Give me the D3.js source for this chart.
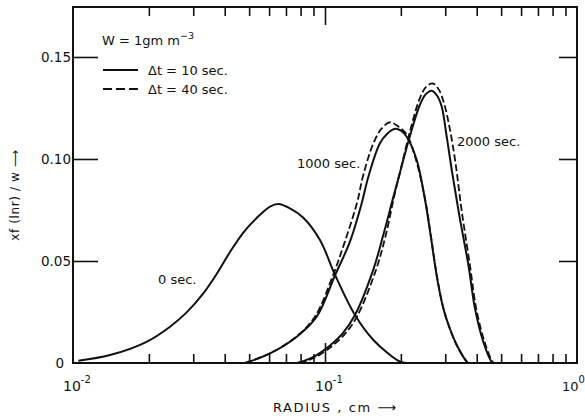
<!DOCTYPE html>
<html><head><meta charset="utf-8">
<script src="https://cdn.jsdelivr.net/npm/d3@7"></script>
<style>
body{margin:0;background:#fff;}
svg{display:block;}
text{font-family:"DejaVu Sans",sans-serif;fill:#111;}
</style></head>
<body><svg id="c" width="585" height="416"></svg>
<script>
// ---- data (radius in cm, value xf(ln r)/w) ----
const r0    = [0.0105,0.01403,0.01959,0.02427,0.02825,0.03289,0.03715,0.04198,0.04742,0.05358,0.06053,0.06531,0.07261,0.08204,0.0955,0.1096,0.1315,0.1556,0.1986,0.2109];
const v0    = [0.0011,0.0039,0.0104,0.0178,0.0248,0.0341,0.0436,0.0544,0.0639,0.0711,0.0767,0.0779,0.0758,0.0712,0.0603,0.0432,0.0235,0.0113,0.0006,0];

const r1000a = [0.04819,0.06053,0.07727,0.09268,0.1096,0.1256,0.1400,0.1486,0.1652,0.1770,0.1897,0.1995,0.2109,0.2312,0.2495,0.2630,0.2786,0.2951,0.3105,0.3334,0.3648,0.3690];
const v1000a = [0,0.0047,0.0129,0.0227,0.0430,0.0595,0.0785,0.0913,0.1077,0.1125,0.1148,0.1140,0.1109,0.0995,0.0799,0.062,0.0415,0.0266,0.0180,0.0088,0.0006,0];

const r1000b = [0.04819,0.06053,0.07727,0.0912,0.1076,0.1199,0.1340,0.1413,0.1556,0.1679,0.1811,0.1950,0.2109,0.2291,0.2495,0.2630,0.2786,0.2951,0.3105,0.3334,0.3664,0.3715];
const v1000b = [0,0.0048,0.0131,0.0227,0.0430,0.0595,0.0785,0.0913,0.1077,0.1150,0.1180,0.1160,0.1120,0.1000,0.0805,0.0625,0.0420,0.0268,0.0180,0.0086,0.0005,0];

const r2000a = [0.07727,0.08453,0.09268,0.1047,0.1175,0.1315,0.1556,0.1702,0.1866,0.1986,0.2173,0.2382,0.2512,0.2649,0.2786,0.2904,0.3041,0.3184,0.3404,0.3707,0.3936,0.4246,0.4581,0.4645];
const v2000a = [0,0.0015,0.0039,0.0086,0.0145,0.0235,0.0459,0.0626,0.0812,0.0936,0.1113,0.1267,0.1318,0.1335,0.1310,0.1257,0.1109,0.0946,0.073,0.048,0.0268,0.0104,0.0006,0];

const r2000b = [0.07925,0.0867,0.09506,0.1074,0.1205,0.1349,0.1596,0.1742,0.1884,0.1995,0.2178,0.2382,0.2523,0.2679,0.2831,0.2972,0.3126,0.3296,0.3483,0.3758,0.3981,0.4295,0.4624,0.4699];
const v2000b = [0,0.0015,0.0039,0.0086,0.0145,0.0235,0.0459,0.0626,0.0820,0.0946,0.1140,0.1300,0.1355,0.1370,0.1340,0.1270,0.1150,0.0980,0.0750,0.0480,0.0268,0.0104,0.0006,0];

const yTicks = [0,0.05,0.10,0.15];
const yTickLabels = ["0","0.05","0.10","0.15"];
const xMajor = [0.01,0.1,1];
const xMajorExp = ["-2","-1","0"];
const curveLabels = ["0 sec.","1000 sec.","2000 sec."];
const legendLabels = ["\u0394t = 10 sec.","\u0394t = 40 sec."];

// ---- layout ----
const L=73,T=7,R=577,B=363;
const svg=d3.select("#c");
const x=d3.scaleLog().domain([0.01,1]).range([L,R]);
const y=d3.scaleLinear().domain([0,0.1745]).range([B,T]);

// minor ticks
const minor=[];
[0.01,0.1].forEach(d=>{for(let k=2;k<=9;k++) minor.push(d*k);});

svg.append("g").attr("transform",`translate(0,${B})`)
  .call(d3.axisBottom(x).tickValues(minor).tickSize(-9).tickFormat(""));
svg.append("g").attr("transform",`translate(0,${B})`)
  .call(d3.axisBottom(x).tickValues([0.1]).tickSize(-20).tickFormat(""));
svg.append("g").attr("transform",`translate(0,${T})`)
  .call(d3.axisTop(x).tickValues(minor).tickSize(-9).tickFormat(""));
svg.append("g").attr("transform",`translate(0,${T})`)
  .call(d3.axisTop(x).tickValues([0.1]).tickSize(-18).tickFormat(""));
svg.append("g").attr("transform",`translate(${L},0)`)
  .call(d3.axisLeft(y).tickValues(yTicks.slice(1)).tickSize(-25).tickFormat(""));
svg.append("g").attr("transform",`translate(${R},0)`)
  .call(d3.axisRight(y).tickValues(yTicks.slice(1)).tickSize(-18).tickFormat(""));
svg.selectAll(".domain").remove();
svg.selectAll(".tick line").attr("stroke","#111").attr("stroke-width",1.6);

// frame
svg.append("rect").attr("x",L).attr("y",T).attr("width",R-L).attr("height",B-T)
  .attr("fill","none").attr("stroke","#111").attr("stroke-width",2);

// y tick labels
svg.selectAll(".ylab").data(yTicks).join("text")
  .attr("x",(d,i)=>i===0?64:71).attr("y",d=>y(d)+5)
  .attr("text-anchor","end").style("font-size","13.5px")
  .text((d,i)=>yTickLabels[i]);

// x tick labels 10^n
xMajor.forEach((d,i)=>{
  const last=i===xMajor.length-1;
  const t=svg.append("text").attr("x",x(d)-(last?15:10)).attr("y",391).style("font-size",last?"13px":"14px");
  t.append("tspan").text("10");
  t.append("tspan").attr("dy",-8).style("font-size","10px").text(xMajorExp[i]);
});

// axis titles
svg.append("text").attr("x",273).attr("y",412).style("font-size","13px")
  .attr("letter-spacing","1.6px").text("RADIUS , cm \u27F6");
svg.append("text").attr("transform","translate(19,195) rotate(-90)")
  .attr("text-anchor","middle").style("font-size","12px").attr("letter-spacing","0.6px")
  .text("xf (lnr) / w \u27F6");

// curves
const line=d3.line().x(d=>x(d[0])).y(d=>y(d[1])).curve(d3.curveCatmullRom.alpha(0.5));
const series=[
  [r0,v0,false],[r1000a,v1000a,false],[r1000b,v1000b,true],[r2000a,v2000a,false],[r2000b,v2000b,true]
];
series.forEach(([rs,vs,dash])=>{
  svg.append("path").datum(rs.map((r,i)=>[r,vs[i]])).attr("d",line)
    .attr("fill","none").attr("stroke","#111").attr("stroke-width",dash?1.8:2)
    .attr("stroke-dasharray",dash?"7,3":null);
});

// annotations
svg.append("text").attr("x",158).attr("y",284).style("font-size","13px").text(curveLabels[0]);
svg.append("text").attr("x",297).attr("y",168).style("font-size","13px").text(curveLabels[1]);
svg.append("text").attr("x",457).attr("y",146).style("font-size","13px").text(curveLabels[2]);

// W label
const w=svg.append("text").attr("x",102).attr("y",45).style("font-size","13px");
w.append("tspan").text("W = 1gm  m");
w.append("tspan").attr("dy",-6).style("font-size","9.5px").text("\u22123");

// legend
svg.append("line").attr("x1",103).attr("x2",138).attr("y1",70).attr("y2",70).attr("stroke","#111").attr("stroke-width",2);
svg.append("line").attr("x1",103).attr("x2",138).attr("y1",89).attr("y2",89).attr("stroke","#111").attr("stroke-width",2).attr("stroke-dasharray","9,4");
svg.append("text").attr("x",148).attr("y",75).style("font-size","13px").text(legendLabels[0]);
svg.append("text").attr("x",148).attr("y",94).style("font-size","13px").text(legendLabels[1]);
</script></body></html>
